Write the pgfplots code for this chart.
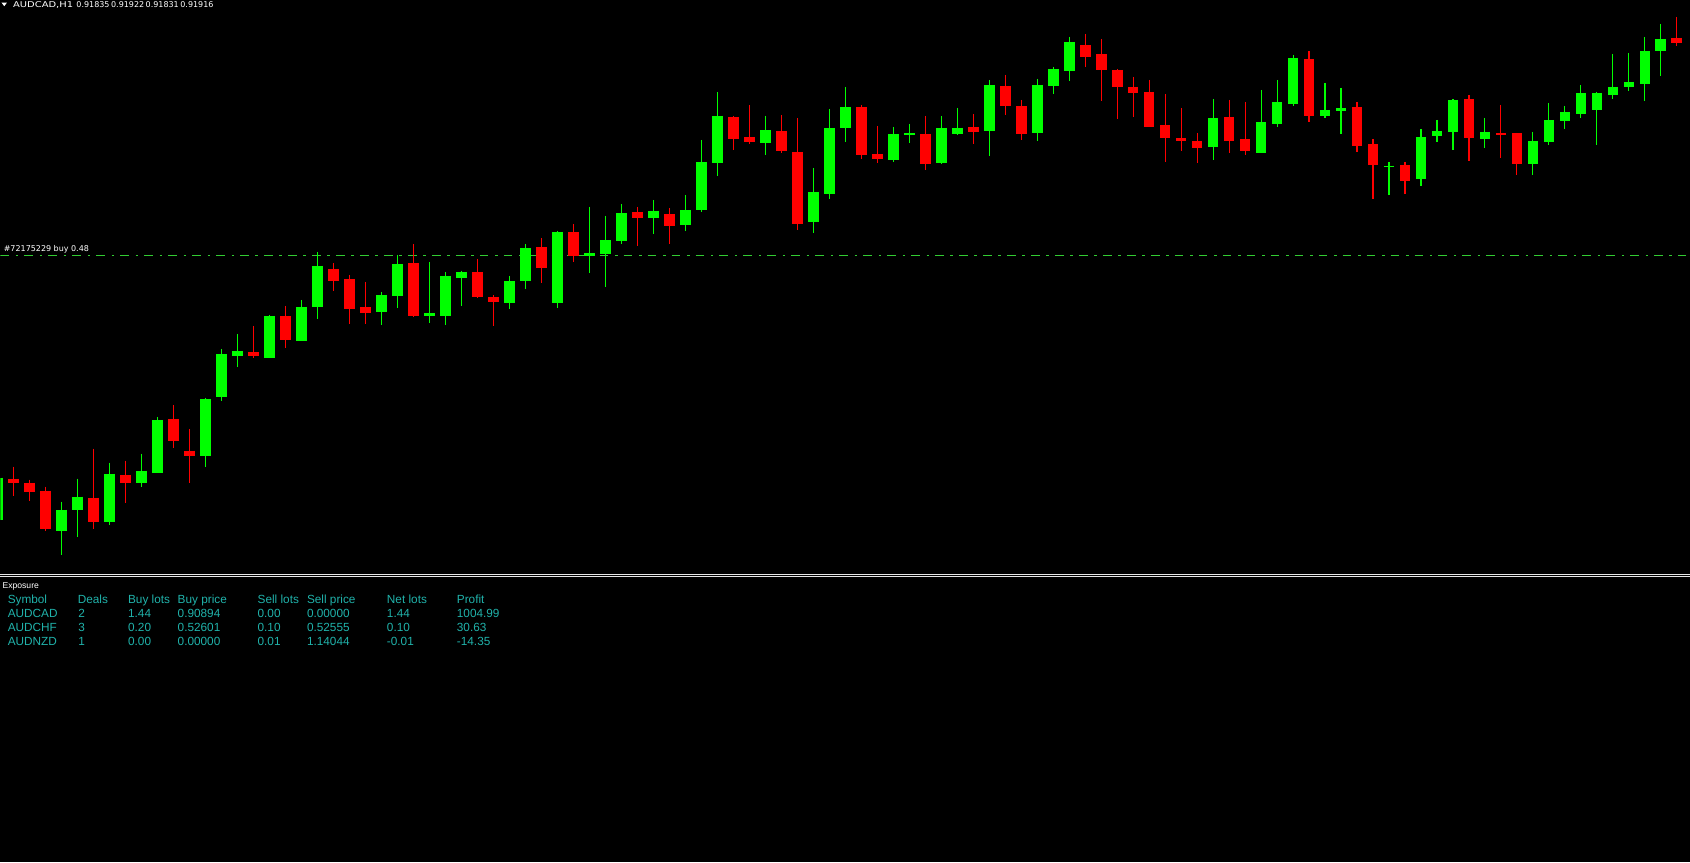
\documentclass[border=0pt]{standalone}
\usepackage{pgfplots}
\pgfplotsset{compat=1.18}
\usepackage{pgfplotstable}
\usepackage{fontspec}
\setmainfont{Liberation Sans}
\newfontfamily\dejavu{DejaVu Sans}
\definecolor{cgreen}{RGB}{0,255,0}
\definecolor{cred}{RGB}{255,0,0}
\definecolor{lvl}{RGB}{50,205,50}
\definecolor{tealtxt}{RGB}{32,178,170}
\definecolor{sep}{RGB}{230,230,230}

% candle data: i = bar index, o h l c = open/high/low/close read as screen rows (pixels from top)
\pgfplotstableread{
i o h l c
0 520 475 522 478
4 531 502 555 510
5 510 479 537 497
7 522 463 525 474
9 483 454 487 471
10 473 417 473 420
13 456 398 467 399
14 397 349 401 354
15 356 334 367 351
17 358 315 358 316
19 341 300 341 307
20 307 252 319 266
24 312 292 325 295
25 296 255 308 264
27 316 262 323 313
28 316 272 325 276
29 278 271 306 272
32 303 276 309 281
33 281 244 289 248
35 303 231 308 232
37 256 207 273 253
38 254 216 287 240
39 241 204 244 213
41 218 200 234 211
43 225 195 231 210
44 210 140 212 162
45 163 92 176 116
48 143 116 155 130
51 222 168 233 192
52 194 109 199 128
53 128 87 142 107
56 160 127 162 134
57 135 124 143 133
59 163 116 164 128
60 134 108 135 128
62 131 80 156 85
65 133 79 141 85
66 86 67 94 69
67 71 37 81 42
76 147 99 160 118
79 153 90 153 122
80 124 80 127 102
81 104 55 106 58
83 116 83 118 110
84 111 88 134 108
87 167 162 195 166
89 179 129 186 137
90 136 120 142 131
91 132 99 150 100
93 139 118 148 132
96 164 132 175 141
97 142 103 145 120
98 121 106 129 112
99 114 85 118 93
100 110 92 145 93
101 95 54 99 87
102 87 53 91 82
103 84 37 101 51
104 51 24 76 39
}\greendata

\pgfplotstableread{
i o h l c
1 479 467 496 483
2 483 480 501 492
3 491 487 531 529
6 498 449 529 522
8 475 461 503 483
11 419 405 448 441
12 451 429 483 456
16 352 326 358 356
18 316 306 348 340
21 269 263 291 281
22 279 275 324 309
23 307 282 324 313
26 263 244 317 316
30 272 259 298 297
31 297 295 326 302
34 247 238 283 268
36 232 224 262 256
40 212 207 246 218
42 214 208 244 226
46 117 116 150 139
47 137 105 144 142
49 131 115 153 151
50 152 118 230 224
54 107 105 159 155
55 154 126 163 159
58 134 116 170 164
61 127 114 144 132
63 86 75 115 106
64 106 100 140 134
68 45 34 67 57
69 54 39 101 70
70 70 69 119 87
71 87 77 117 93
72 92 80 127 127
73 125 94 162 138
74 138 108 151 141
75 141 133 163 148
77 117 100 153 141
78 139 102 155 151
82 59 51 122 116
85 107 102 152 146
86 144 139 199 165
88 165 162 194 181
92 99 95 161 138
94 133 105 158 135
95 133 133 175 164
105 38 17 46 43
}\reddata

\begin{document}
\begin{tikzpicture}
\fill[black] (0,0) rectangle (845pt,431.5pt);
\begin{axis}[at={(0pt,0pt)}, anchor=south west,
  width=845pt, height=431.5pt, scale only axis, hide axis,
  xmin=0.16875, xmax=105.79375, ymin=0, ymax=863, y dir=reverse, clip=true]
% order level line
\addplot[lvl, line width=0.5pt, dash pattern=on 4.33pt off 3.33pt on 1.33pt off 3pt, forget plot]
  coordinates {(0.16875,255.5) (105.6,255.5)};
% wicks
\addplot[cgreen, forget plot, line width=0.55pt, line cap=butt,
  quiver={u=0, v=\thisrow{l}-\thisrow{h}, every arrow/.append style={-}}]
  table[x=i, y=h] {\greendata};
\addplot[cred, forget plot, line width=0.55pt, line cap=butt,
  quiver={u=0, v=\thisrow{l}-\thisrow{h}, every arrow/.append style={-}}]
  table[x=i, y=h] {\reddata};
% bodies
\addplot[cgreen, forget plot, line width=5.35pt, line cap=butt,
  quiver={u=0, v=\thisrow{o}-\thisrow{c}, every arrow/.append style={-}}]
  table[x=i, y=c] {\greendata};
\addplot[cred, forget plot, line width=5.35pt, line cap=butt,
  quiver={u=0, v=\thisrow{c}-\thisrow{o}, every arrow/.append style={-}}]
  table[x=i, y=o] {\reddata};
\end{axis}
\begin{scope}[shift={(0pt,431.5pt)}, x=0.5pt, y=-0.5pt]
% header
\fill[white] (1,2.6) -- (6.5,2.6) -- (3.75,6.2) -- cycle;
\begin{scope}[every node/.style={inner sep=0pt, outer sep=0pt, anchor=base west, text=white,
   font=\dejavu\fontsize{4pt}{4.8pt}\selectfont}]
\node at (12.7,7.6) {\scalebox{1.24}[1]{AUDCAD,H1}};
\node at (76,7.6) {0.91835};
\node at (110.7,7.6) {0.91922};
\node at (145.3,7.6) {0.91831};
\node at (180,7.6) {0.91916};
\node at (3.3,251.3) {\#72175229 buy 0.48};
\end{scope}
% separator
\draw[sep, line width=0.5pt] (0,574.5) -- (1690,574.5);
\draw[sep, line width=0.5pt] (0,576.5) -- (1690,576.5);
\node[inner sep=0pt, anchor=base west, text=white, font=\fontsize{4.3pt}{5pt}\selectfont] at (1.7,588.7) {Exposure};
\begin{scope}[every node/.style={inner sep=0pt, outer sep=0pt, anchor=base west, text=tealtxt,
   font=\fontsize{5.9pt}{7pt}\selectfont}]
\foreach \xx/\t in {7.3/Symbol, 77.3/Deals, 127.7/Buy lots, 177.3/Buy price, 257.3/Sell lots, 306.7/Sell price, 386.7/Net lots, 456.7/Profit}
  \node at (\xx,603.7) {\t};
\foreach \xx/\t in {7.3/AUDCAD, 77.8/2, 127.7/1.44, 177.3/0.90894, 257.3/0.00, 306.7/0.00000, 386.7/1.44, 456.7/1004.99}
  \node at (\xx,617.7) {\t};
\foreach \xx/\t in {7.3/AUDCHF, 77.8/3, 127.7/0.20, 177.3/0.52601, 257.3/0.10, 306.7/0.52555, 386.7/0.10, 456.7/30.63}
  \node at (\xx,632) {\t};
\foreach \xx/\t in {7.3/AUDNZD, 77.8/1, 127.7/0.00, 177.3/0.00000, 257.3/0.01, 306.7/1.14044, 386.7/-0.01, 456.7/-14.35}
  \node at (\xx,645.7) {\t};
\end{scope}
\end{scope}
\end{tikzpicture}
\end{document}
